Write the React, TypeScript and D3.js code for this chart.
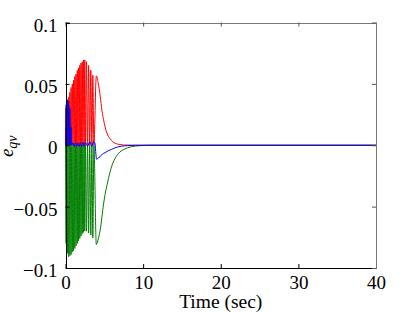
import * as d3 from "d3";
import { useRef, useEffect } from "react";

// [time (sec), e_qv]
const redSeries: [number, number][] = [
  [0, 0], [0.08, 0.030], [0.16, 0], [0.24, 0.037], [0.32, 0], [0.40, 0.039], [0.48, 0],
  [0.56, 0.043], [0.64, 0], [0.72, 0.047], [0.80, 0], [0.88, 0.050], [0.96, 0],
  [1.04, 0.053], [1.12, 0], [1.20, 0.056], [1.28, 0], [1.36, 0.058], [1.44, 0],
  [1.52, 0.061], [1.60, 0], [1.68, 0.063], [1.76, 0], [1.84, 0.065], [1.92, 0],
  [2.00, 0.067], [2.08, 0], [2.16, 0.068], [2.24, 0], [2.32, 0.0695], [2.40, 0],
  [2.48, 0.0695], [2.56, 0], [2.70, 0.068], [2.84, 0], [2.98, 0.065], [3.12, 0],
  [3.26, 0.061], [3.40, 0], [3.52, 0.057], [3.66, 0], [3.97, 0.0565], [4.2, 0.051],
  [4.47, 0.040], [4.7, 0.028], [4.9, 0.021], [5.1, 0.015], [5.33, 0.010], [5.55, 0.007],
  [5.76, 0.0052], [6.1, 0.0028], [6.4, 0.0016], [7.0, 0.0006], [7.5, 0.0002], [9, 0], [40, 0],
];

const greenSeries: [number, number][] = [
  [0, 0], [0.08, -0.080], [0.16, 0], [0.24, -0.088], [0.32, 0], [0.40, -0.091], [0.48, 0],
  [0.56, -0.090], [0.64, 0], [0.72, -0.089], [0.80, 0], [0.88, -0.087], [0.96, 0],
  [1.04, -0.086], [1.12, 0], [1.20, -0.084], [1.28, 0], [1.36, -0.082], [1.44, 0],
  [1.52, -0.080], [1.60, 0], [1.68, -0.078], [1.76, 0], [1.84, -0.076], [1.92, 0],
  [2.00, -0.074], [2.08, 0], [2.16, -0.072], [2.24, 0], [2.32, -0.071], [2.40, 0],
  [2.48, -0.070], [2.56, 0], [2.70, -0.070], [2.84, 0], [2.98, -0.0715], [3.12, 0],
  [3.26, -0.073], [3.40, 0], [3.52, -0.0755], [3.66, 0], [3.97, -0.081], [4.1, -0.079],
  [4.47, -0.069], [4.9, -0.048], [5.1, -0.040], [5.33, -0.033], [5.75, -0.0215],
  [6.1, -0.0145], [6.4, -0.0106], [7.0, -0.0055], [7.5, -0.0035], [8.0, -0.002],
  [9.0, -0.0007], [10, -0.0002], [11, 0], [40, 0],
];

const blueSeries: [number, number][] = [
  [0, 0], [0.08, 0.033], [0.16, 0], [0.24, 0.037], [0.32, 0], [0.40, 0.036], [0.48, 0],
  [0.56, 0.030], [0.64, 0], [0.72, 0.015], [0.80, 0], [0.96, 0.002], [1.12, -0.001],
  [1.28, 0.002], [1.44, -0.001], [1.60, 0.002], [1.76, -0.001], [1.92, 0.002],
  [2.08, -0.001], [2.24, 0.0025], [2.40, -0.001], [2.56, 0.0025], [2.84, -0.001],
  [3.12, 0.003], [3.40, -0.001], [3.60, 0.003], [3.78, 0.002], [4.0, -0.0114],
  [4.2, -0.0105], [4.45, -0.0093], [4.75, -0.0072], [5.1, -0.006], [5.5, -0.0045],
  [5.95, -0.0033], [6.5, -0.0018], [7.2, -0.0008], [8, -0.0003], [9, 0], [40, 0],
];

const xTicks = [0, 10, 20, 30, 40];
const yTicks = [-0.1, -0.05, 0, 0.05, 0.1];
const yTickLabels = ["\u22120.1", "\u22120.05", "0", "0.05", "0.1"];

const App = () => {
  const chartRef = useRef<SVGSVGElement>(null);

  const width = 415;
  const height = 312;
  const margin = { top: 22.5, bottom: 44, left: 65.5, right: 39 };

  useEffect(() => {
    const svg = d3.select(chartRef.current);
    svg.selectAll("*").remove();

    const scaleX = d3.scaleLinear().domain([0, 40]).range([margin.left, width - margin.right]);
    const scaleY = d3.scaleLinear().domain([-0.1, 0.1]).range([height - margin.bottom, margin.top]);

    const font = "'Liberation Serif', 'Times New Roman', Times, serif";

    const x0 = scaleX(0), x1 = scaleX(40), y0 = scaleY(-0.1), y1 = scaleY(0.1);

    const line = d3.line<[number, number]>()
      .x(d => scaleX(d[0]))
      .y(d => scaleY(d[1]))
      .curve(d3.curveMonotoneX);

    const series: [[number, number][], string][] = [
      [redSeries, "#ff0000"],
      [greenSeries, "#008000"],
      [blueSeries, "#0000ff"],
    ];
    series.forEach(([data, color]) => {
      svg.append("path")
        .datum(data)
        .attr("d", line)
        .attr("fill", "none")
        .attr("stroke", color)
        .attr("stroke-width", 1);
    });

    // axes (ticks inward, like matlab)
    const bottom = svg.append("g")
      .attr("transform", `translate(0, ${y0})`)
      .call(d3.axisBottom(scaleX).tickValues(xTicks).tickSize(-4).tickPadding(8).tickFormat(d3.format("d")));
    const top = svg.append("g")
      .attr("transform", `translate(0, ${y1})`)
      .call(d3.axisTop(scaleX).tickValues(xTicks).tickSize(-4).tickFormat(() => ""));
    const left = svg.append("g")
      .attr("transform", `translate(${x0}, 0)`)
      .call(d3.axisLeft(scaleY).tickValues(yTicks).tickSize(-4).tickPadding(8)
        .tickFormat((d, i) => yTickLabels[i]));
    const right = svg.append("g")
      .attr("transform", `translate(${x1}, 0)`)
      .call(d3.axisRight(scaleY).tickValues(yTicks).tickSize(-4).tickFormat(() => ""));

    [bottom, left].forEach(g => {
      g.select(".domain").attr("stroke", "#000").attr("stroke-width", 1);
      g.selectAll(".tick line").attr("stroke", "#000");
    });
    [top, right].forEach(g => {
      g.select(".domain").attr("stroke", "#777").attr("stroke-width", 1);
      g.selectAll(".tick line").attr("stroke", "#555");
    });

    [bottom, left, top, right].forEach(g => {
      g.attr("font-family", null).attr("font-size", null);
    });
    [bottom, left].forEach(g => {
      g.selectAll("text")
        .style("font-family", font)
        .style("font-size", "19px")
        .attr("fill", "#000");
    });
    bottom.selectAll("text").attr("dy", "0.71em");
    left.selectAll("text").attr("dy", "0.45em");
    svg.selectAll(".domain").attr("shape-rendering", "crispEdges");

    // axis labels
    svg.append("text")
      .attr("x", (x0 + x1) / 2)
      .attr("y", 307.5)
      .attr("text-anchor", "middle")
      .style("font-family", font)
      .style("font-size", "19.5px")
      .text("Time (sec)");

    const ylab = svg.append("text")
      .attr("transform", `translate(13, ${scaleY(0) + 1}) rotate(-90)`)
      .attr("text-anchor", "middle")
      .style("font-family", font)
      .style("font-style", "italic")
      .style("font-size", "19px");
    ylab.append("tspan").text("e");
    ylab.append("tspan").style("font-size", "14px").attr("dy", 4).text("qv");
  }, []);

  return (
    <svg ref={chartRef} width={width} height={height}
      style={{ position: "absolute", left: 0, top: 0, background: "white" }}></svg>
  );
};

export default App;
